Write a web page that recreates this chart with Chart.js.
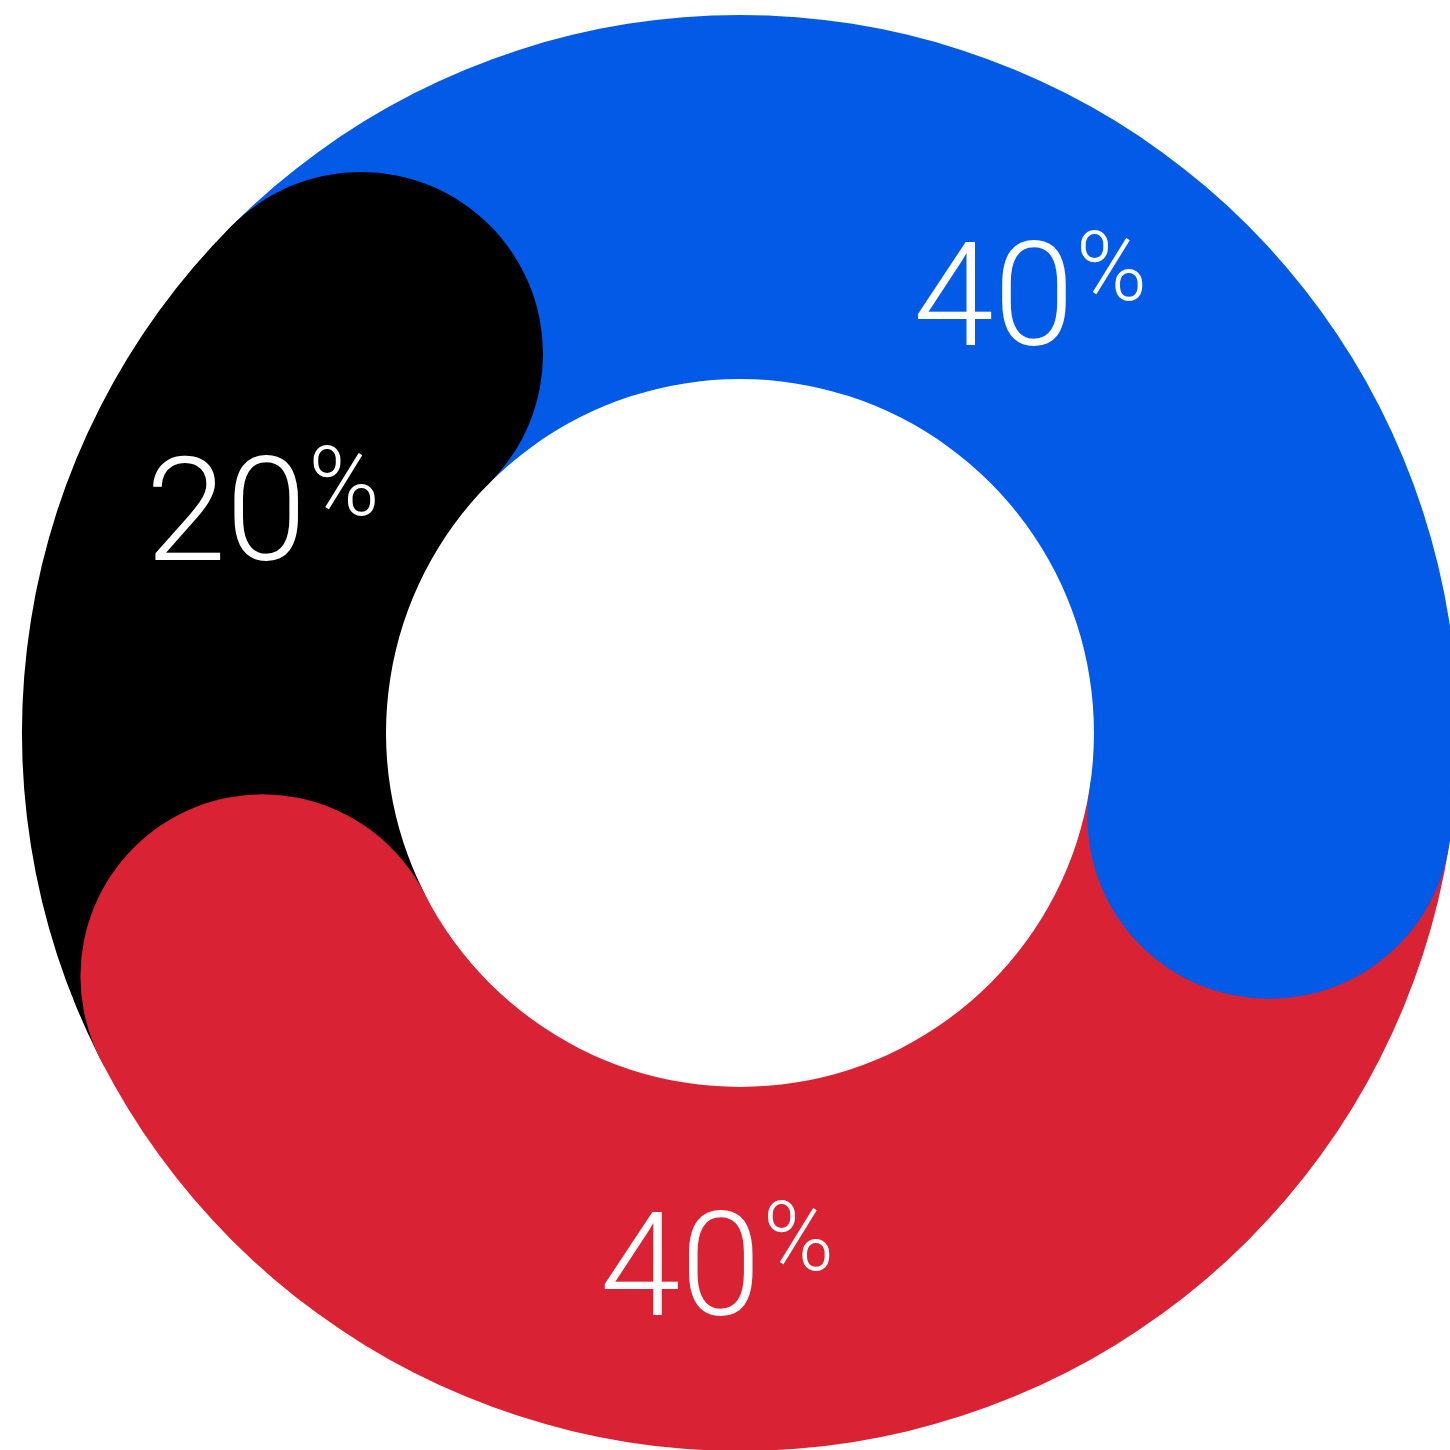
<!DOCTYPE html>
<html>
<head>
<meta charset="utf-8">
<title>Share doughnut</title>
<script src="https://cdn.jsdelivr.net/npm/chart.js@4/dist/chart.umd.min.js"></script>
<style>
  html, body { margin:0; padding:0; background:#fff; overflow:hidden; }
  #wrap { width:1450px; height:1450px; overflow:hidden; position:relative; }
  #mycanvas { position:absolute; left:0; top:0; }
</style>
</head>
<body>
<div id="wrap"><canvas id="mycanvas" width="1480" height="1466"></canvas></div>
<script>

//******************************************************************************************
//   DATA
//******************************************************************************************

var categories = ["Blue", "Red", "Black"];
var shares = [40, 40, 20];          // percent
var valueLabels = ["40", "40", "20"];

//******************************************************************************************

var sliceColors = ["#025AE6", "#D92233", "#000000"];
var labelTurn = [6.3, 11.5, 16.4];  // degrees past the middle of each slice
var labelRadius = 0.986;            // fraction of the ring middle
var bigFont = 145, smallFont = 96;
var fontFamily = "Roboto, 'Liberation Sans', sans-serif";

// every slice ends in a round cap that sits on top of the next slice
var roundCaps = {
  id: "roundCaps",
  afterDatasetsDraw: function(chart) {
    var ctx = chart.ctx;
    var arcs = chart.getDatasetMeta(0).data;
    var i, a, mid, half, cx, cy;
    ctx.save();
    for (i = 0; i < arcs.length; i++) {
      a = arcs[i].getProps(["x", "y", "startAngle", "endAngle", "innerRadius", "outerRadius"], true);
      mid = (a.innerRadius + a.outerRadius) / 2;
      half = (a.outerRadius - a.innerRadius) / 2;
      cx = a.x + mid * Math.cos(a.endAngle);
      cy = a.y + mid * Math.sin(a.endAngle);
      ctx.beginPath();
      ctx.arc(cx, cy, half, 0, Math.PI * 2);
      ctx.fillStyle = arcs[i].options.backgroundColor;
      ctx.fill();
    }
    // percent labels
    for (i = 0; i < arcs.length; i++) {
      a = arcs[i].getProps(["x", "y", "startAngle", "endAngle", "innerRadius", "outerRadius"], true);
      mid = (a.innerRadius + a.outerRadius) / 2 * labelRadius;
      var ang = (a.startAngle + a.endAngle) / 2 + labelTurn[i] * Math.PI / 180;
      var px = a.x + mid * Math.cos(ang);
      var py = a.y + mid * Math.sin(ang);
      ctx.font = "300 " + bigFont + "px " + fontFamily;
      var wNum = ctx.measureText(valueLabels[i]).width;
      ctx.font = "300 " + smallFont + "px " + fontFamily;
      var wPct = ctx.measureText("%").width;
      var x0 = px - (wNum + 2 + wPct) / 2;
      var yb = py + 54;
      ctx.fillStyle = "#ffffff";
      ctx.textAlign = "left";
      ctx.textBaseline = "alphabetic";
      ctx.font = "300 " + bigFont + "px " + fontFamily;
      ctx.fillText(valueLabels[i], x0, yb);
      ctx.font = "300 " + smallFont + "px " + fontFamily;
      ctx.fillText("%", x0 + wNum + 2, yb - 45);
    }
    ctx.restore();
  }
};

var data = {
  labels: categories,
  datasets: [{
    data: shares,
    backgroundColor: sliceColors,
    borderWidth: 0,
    hoverOffset: 0
  }]
};

var opts = {
  responsive: false,
  animation: false,
  events: [],
  rotation: -45,
  cutout: "49.3%",
  layout: { padding: { left: 22, right: 22, top: 15, bottom: 15 } },
  plugins: {
    legend: { display: false },
    tooltip: { enabled: false }
  }
};

new Chart(document.getElementById("mycanvas").getContext("2d"), {
  type: "doughnut",
  data: data,
  options: opts,
  plugins: [roundCaps]
});
</script>
</body>
</html>
